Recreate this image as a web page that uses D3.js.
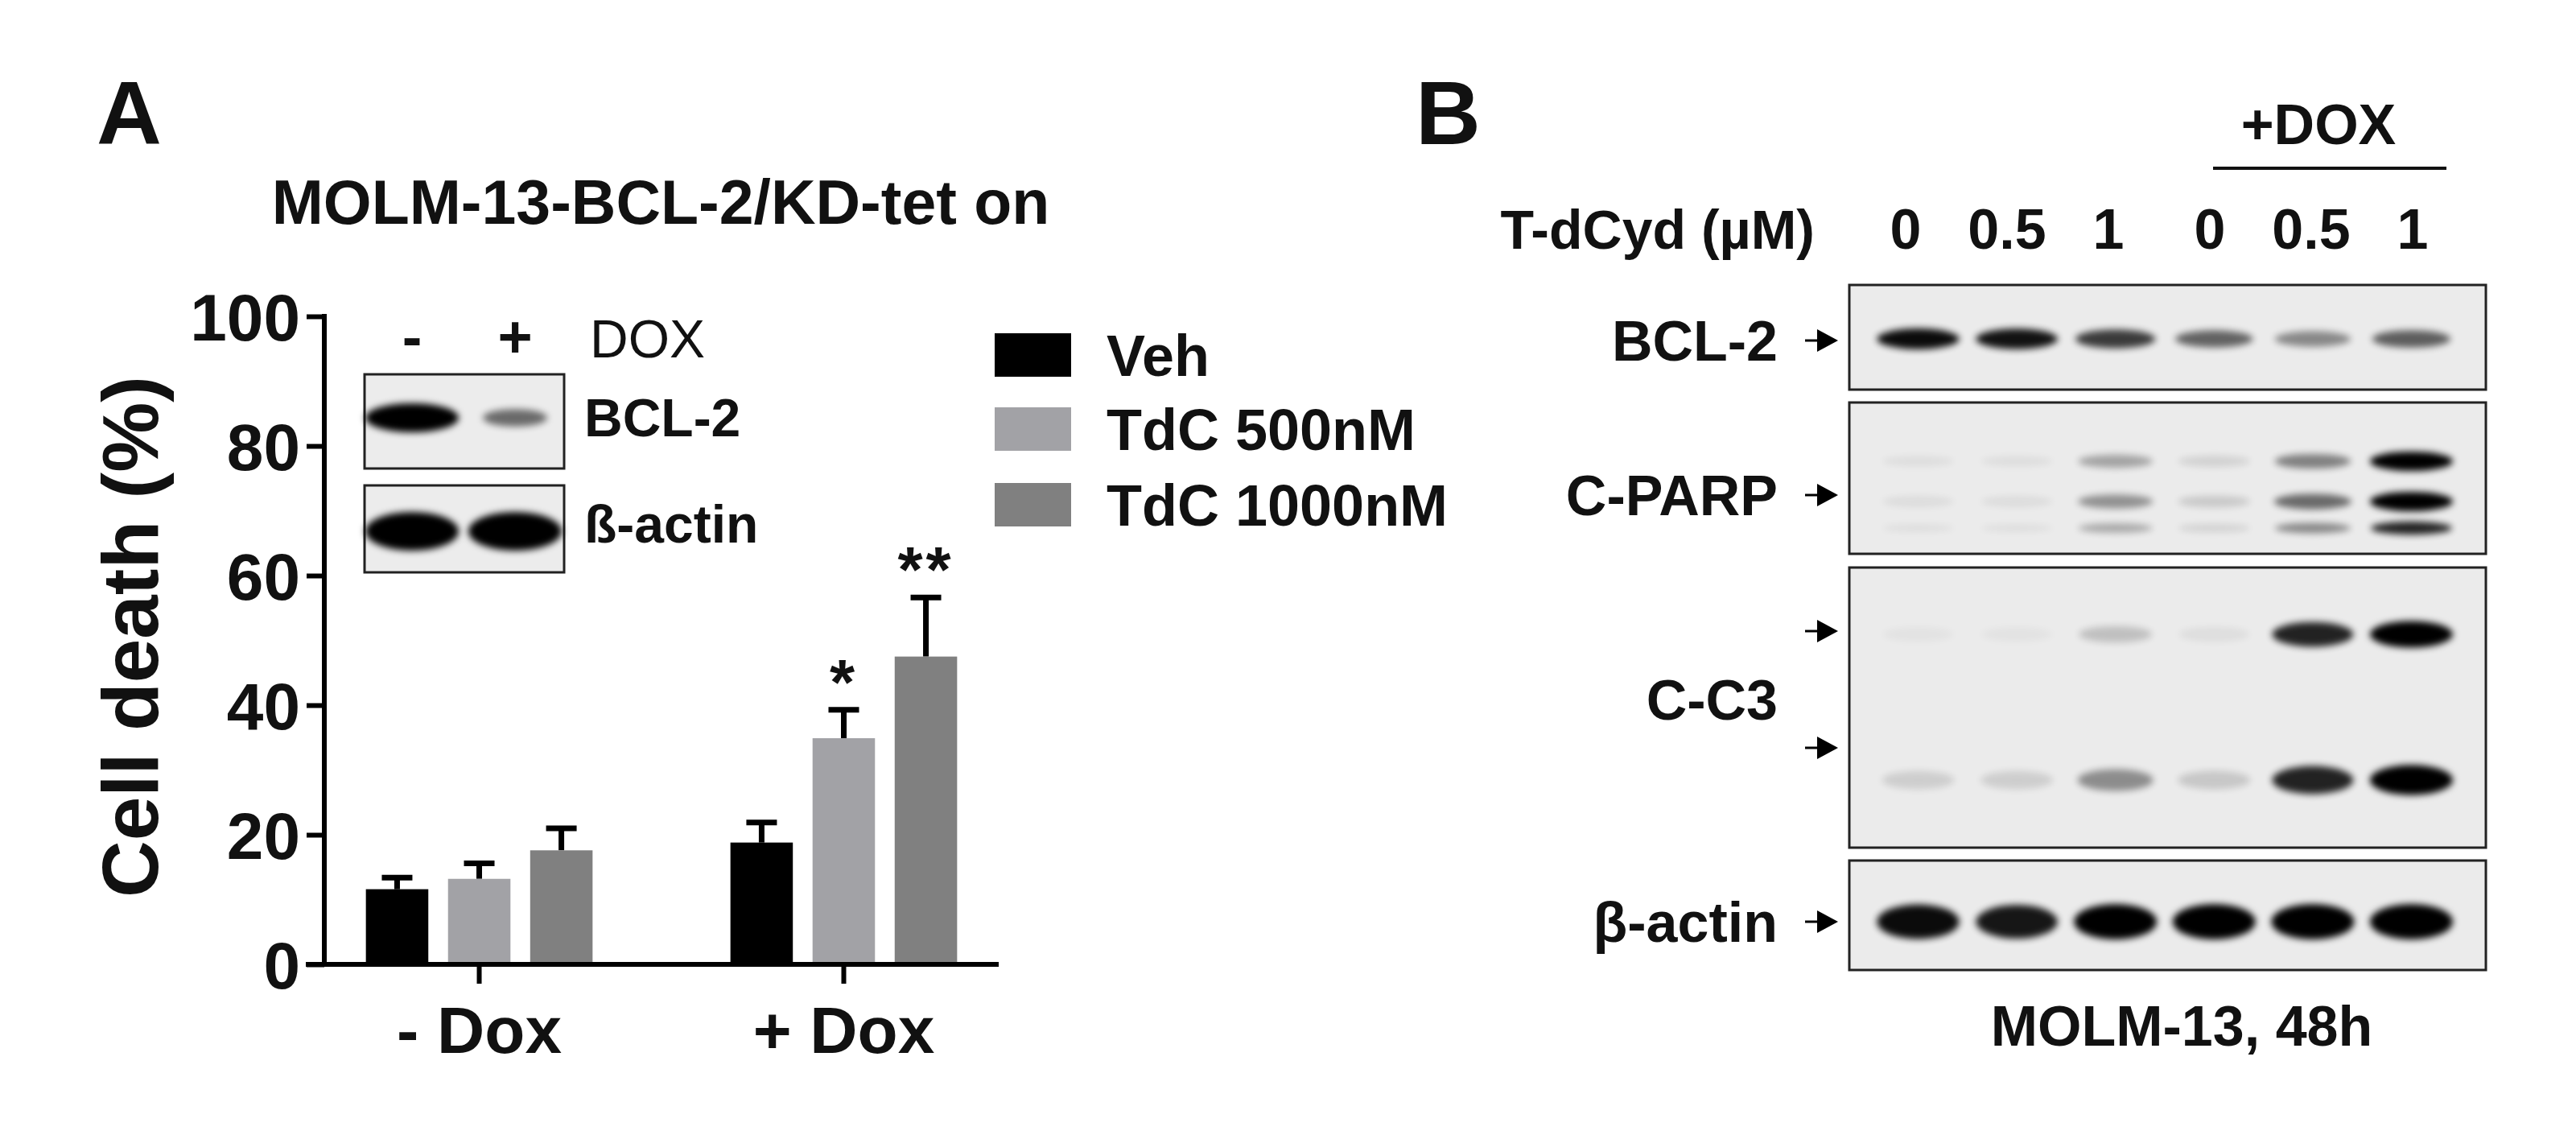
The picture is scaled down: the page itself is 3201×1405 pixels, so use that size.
<!DOCTYPE html>
<html><head><meta charset="utf-8">
<script src="https://cdn.jsdelivr.net/npm/d3@7"></script>
<style>body{margin:0;background:#fff}svg text{font-family:"Liberation Sans",Arial,sans-serif;font-weight:bold;fill:#111}</style>
</head><body><svg id="c" width="3201" height="1405"></svg>
<script>
// ---- Panel A data ----
const groups = ["- Dox", "+ Dox"];
const seriesNames = ["Veh", "TdC 500nM", "TdC 1000nM"];
const seriesColors = ["#000000", "#a2a2a6", "#808080"];
const vehValues = [11.6, 18.8];
const tdc500Values = [13.2, 34.9];
const tdc1000Values = [17.6, 47.5];
const vehErr = [1.8, 3.1];
const tdc500Err = [2.4, 4.4];
const tdc1000Err = [3.4, 9.1];
const sigMarks = [["", "", ""], ["", "*", "**"]];
const yTicks = [0, 20, 40, 60, 80, 100];
// inset blot
const insetLanes = ["-", "+"];
const insetBcl2 = [1.0, 0.55];
const insetActin = [1.0, 1.0];
// ---- Panel B data ----
const doseLabels = ["0", "0.5", "1", "0", "0.5", "1"];
const bcl2Band = [0.95, 0.92, 0.75, 0.58, 0.42, 0.6];
const parpTop = [0.05, 0.05, 0.3, 0.1, 0.45, 1.0];
const parpMid = [0.06, 0.06, 0.38, 0.14, 0.55, 1.0];
const parpBot = [0.05, 0.05, 0.28, 0.1, 0.42, 0.85];
const c3Top = [0.03, 0.03, 0.18, 0.05, 0.85, 1.0];
const c3Bot = [0.12, 0.12, 0.4, 0.15, 0.85, 1.0];
const actinBand = [0.95, 0.9, 1.0, 1.0, 1.0, 1.0];

const svg = d3.select("#c");
const defs = svg.append("defs");
defs.append("filter").attr("id","blur").attr("x","-50%").attr("y","-100%").attr("width","200%").attr("height","300%")
  .append("feGaussianBlur").attr("stdDeviation", 4);

// ===== Panel A =====
svg.append("text").attr("x",120).attr("y",179).attr("font-size",112).text("A");
svg.append("text").attr("x",821).attr("y",278).attr("text-anchor","middle").attr("font-size",77).text("MOLM-13-BCL-2/KD-tet on");

const y = d3.scaleLinear().domain([0,100]).range([1198,393]);
const x0 = d3.scaleBand().domain(groups).range([403,1241]).paddingInner(0.27).paddingOuter(0.06);
const x1 = d3.scaleBand().domain(seriesNames).range([0,x0.bandwidth()]).padding(0.24);

const vals = [vehValues, tdc500Values, tdc1000Values];
const errs = [vehErr, tdc500Err, tdc1000Err];
const bars = [];
groups.forEach((g,gi)=>seriesNames.forEach((s,si)=>bars.push({g,s,si,gi,v:vals[si][gi],e:errs[si][gi],sig:sigMarks[gi][si]})));

const gA = svg.append("g");
gA.selectAll("line.err").data(bars).join("line")
  .attr("x1",d=>x0(d.g)+x1(d.s)+x1.bandwidth()/2).attr("x2",d=>x0(d.g)+x1(d.s)+x1.bandwidth()/2)
  .attr("y1",d=>y(d.v)).attr("y2",d=>y(d.v+d.e)).attr("stroke","#000").attr("stroke-width",7);
gA.selectAll("line.cap").data(bars).join("line")
  .attr("x1",d=>x0(d.g)+x1(d.s)+x1.bandwidth()/2-19).attr("x2",d=>x0(d.g)+x1(d.s)+x1.bandwidth()/2+19)
  .attr("y1",d=>y(d.v+d.e)).attr("y2",d=>y(d.v+d.e)).attr("stroke","#000").attr("stroke-width",7);
gA.selectAll("rect.bar").data(bars).join("rect")
  .attr("x",d=>x0(d.g)+x1(d.s)).attr("width",x1.bandwidth())
  .attr("y",d=>y(d.v)).attr("height",d=>y(0)-y(d.v)).attr("fill",d=>seriesColors[d.si]);
gA.selectAll("text.sig").data(bars.filter(d=>d.sig)).join("text")
  .attr("x",d=>x0(d.g)+x1(d.s)+x1.bandwidth()/2).attr("y",d=>y(d.v+d.e)+10-17)
  .attr("text-anchor","middle").attr("font-size",80).attr("letter-spacing",4).text(d=>d.sig);

const yAx = svg.append("g").attr("transform","translate(403,0)")
  .call(d3.axisLeft(y).tickValues(yTicks).tickSize(22).tickPadding(8));
yAx.select(".domain").attr("stroke-width",6).attr("d","M0,390V1201");
yAx.selectAll(".tick line").attr("stroke-width",6);
yAx.selectAll("text").attr("font-size",82).attr("dy","0.36em").attr("fill","#111");
const xAx = svg.append("g").attr("transform","translate(0,1198)")
  .call(d3.axisBottom(x0).tickSize(24).tickPadding(28));
xAx.select(".domain").attr("stroke-width",6).attr("d","M380,0H1241");
xAx.selectAll(".tick line").attr("stroke-width",6);
xAx.selectAll("text").attr("font-size",82).attr("dy","0.71em").attr("fill","#111");
svg.append("text").attr("transform","translate(196,791) rotate(-90)").attr("text-anchor","middle")
  .attr("font-size",98).text("Cell death (%)");

// legend
const lg = svg.append("g");
seriesNames.forEach((s,i)=>{
  const yy = [414,506,600][i];
  lg.append("rect").attr("x",1236).attr("y",yy).attr("width",95).attr("height",54).attr("fill",seriesColors[i]);
  lg.append("text").attr("x",1375).attr("y",yy+27).attr("dy","0.36em").attr("font-size",72).text(s);
});

// inset blot
const insX = d3.scalePoint().domain(insetLanes).range([512,640]);
insetLanes.forEach(l=>svg.append("text").attr("x",insX(l)).attr("y",444).attr("text-anchor","middle").attr("font-size",74).text(l));
svg.append("text").attr("x",733).attr("y",444).attr("font-size",66).style("font-weight","normal").text("DOX");
function insetBox(y0,y1,vals,by,label,ly,bh){
  svg.append("rect").attr("x",453).attr("y",y0).attr("width",248).attr("height",y1-y0).attr("fill","#ececec").attr("stroke","#222").attr("stroke-width",3);
  svg.append("g").selectAll("ellipse").data(insetLanes).join("ellipse")
    .attr("cx",d=>insX(d)).attr("cy",by).attr("rx",(d,i)=>vals[i]>0.8?58:40).attr("ry",(d,i)=>bh*(vals[i]>0.8?1:0.6))
    .attr("fill","#000").attr("opacity",(d,i)=>vals[i]).attr("filter","url(#blur)");
  svg.append("text").attr("x",726).attr("y",ly).attr("font-size",66).text(label);
}
insetBox(465,582,insetBcl2,519,"BCL-2",542,18);
insetBox(603,711,insetActin,660,"ß-actin",674,24);

// ===== Panel B =====
svg.append("text").attr("x",1759).attr("y",179).attr("font-size",112).text("B");
svg.append("text").attr("x",2881).attr("y",179).attr("text-anchor","middle").attr("font-size",70).text("+DOX");
svg.append("line").attr("x1",2750).attr("x2",3040).attr("y1",209).attr("y2",209).attr("stroke","#111").attr("stroke-width",4);
svg.append("text").attr("x",2255).attr("y",309).attr("text-anchor","end").attr("font-size",68).text("T-dCyd (µM)");
const laneIdx = d3.range(6);
const xl = d3.scaleBand().domain(laneIdx).range([2310,3070]).padding(0.2);
const xlab = d3.scalePoint().domain(laneIdx).range([2368,2998]);
laneIdx.forEach(i=>svg.append("text").attr("x",xlab(i)).attr("y",309).attr("text-anchor","middle").attr("font-size",70).text(doseLabels[i]));

function blot(y0,y1,bands){
  svg.append("rect").attr("x",2298).attr("y",y0).attr("width",791).attr("height",y1-y0).attr("fill","#ebebeb").attr("stroke","#222").attr("stroke-width",3);
  const g = svg.append("g");
  bands.forEach(b=>{
    g.selectAll(null).data(laneIdx).join("ellipse")
      .attr("cx",i=>xl(i)+xl.bandwidth()/2).attr("cy",b.y)
      .attr("rx",i=>xl.bandwidth()/2*(0.9+0.15*b.v[i])).attr("ry",i=>b.h*(0.6+0.5*b.v[i]))
      .attr("fill","#000").attr("opacity",i=>b.v[i]).attr("filter","url(#blur)");
  });
}
blot(354,484,[{y:421,v:bcl2Band,h:12}]);
blot(500,688,[{y:573,v:parpTop,h:11},{y:623,v:parpMid,h:11},{y:656,v:parpBot,h:8}]);
blot(705,1053,[{y:788,v:c3Top,h:15},{y:969,v:c3Bot,h:17}]);
blot(1069,1205,[{y:1145,v:actinBand,h:20}]);

const labels = [["BCL-2",423],["C-PARP",615],["C-C3",869],["β-actin",1145]];
labels.forEach(([t,yy])=>svg.append("text").attr("x",2209).attr("y",yy).attr("dy","0.36em").attr("text-anchor","end").attr("font-size",70).text(t));
const arrows = [423,615,784,929,1145];
arrows.forEach(yy=>{
  svg.append("line").attr("x1",2243).attr("x2",2262).attr("y1",yy).attr("y2",yy).attr("stroke","#000").attr("stroke-width",3);
  svg.append("path").attr("d",`M2258,${yy-14}L2284,${yy}L2258,${yy+14}Z`).attr("fill","#000");
});
svg.append("text").attr("x",2711).attr("y",1299).attr("text-anchor","middle").attr("font-size",70).text("MOLM-13, 48h");
</script></body></html>
